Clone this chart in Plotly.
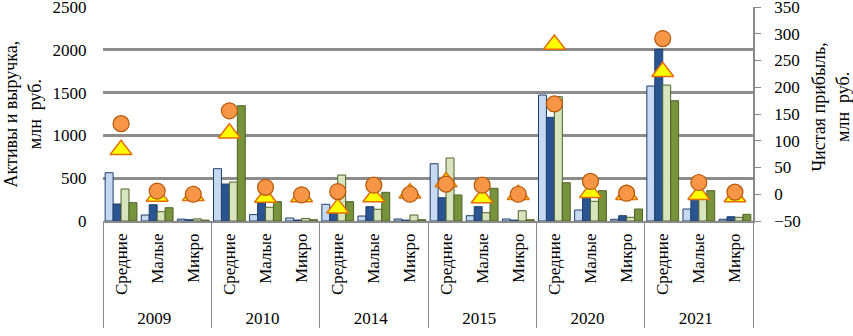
import plotly.graph_objects as go

years = ["2009", "2010", "2014", "2015", "2020", "2021"]
sizes = ["Средние", "Малые", "Микро"]

# Bars (left axis, млн руб.), order per year: Средние, Малые, Микро
light_blue = [564, 70, 22, 611, 75, 35, 195, 58, 23, 669, 62, 23, 1472, 128, 20, 1577, 140, 20]
dark_blue = [199, 190, 15, 432, 210, 12, 150, 167, 10, 272, 167, 10, 1211, 280, 62, 2005, 260, 50]
light_green = [374, 109, 25, 455, 160, 30, 537, 137, 70, 736, 97, 120, 1452, 230, 43, 1588, 280, 43]
olive = [214, 155, 10, 1347, 226, 15, 226, 335, 15, 304, 382, 15, 447, 354, 140, 1405, 354, 78]

# Net profit (right axis)
circles = [132, 6, 0, 156, 13, -1, 5, 17, 0, 19, 17, 0, 169, 24, 2, 291, 22, 4]
triangles = [83, -4, -3, 114, -6, -5, -26, -5, 2, 23, -7, -1, 280, 3, -1, 229, -1, -5]

left_ticks = [0, 500, 1000, 1500, 2000, 2500]

x = [[yr for yr in years for _ in sizes], [s for _ in years for s in sizes]]

FONT = "Times New Roman, Liberation Serif, DejaVu Serif, serif"
GRID = "#8a8a8a"
GRIDLINE = "#8c8c8c"

fig = go.Figure()
bar_specs = [
    (light_blue, "#C6D9F1", "#1F3F6B"),
    (dark_blue, "#2A5592", "#1F3F6B"),
    (light_green, "#D7E4BD", "#4F6228"),
    (olive, "#77933C", "#4F6228"),
]
for vals, fill, edge in bar_specs:
    fig.add_trace(go.Bar(x=x, y=vals, marker=dict(color=fill, line=dict(color=edge, width=1)),
                         showlegend=False))

fig.add_trace(go.Scatter(x=x, y=triangles, yaxis="y2", mode="markers", showlegend=False,
                         marker=dict(symbol="triangle-up", size=19, color="#FFFF00",
                                     line=dict(color="#E46C0A", width=1.5))))
fig.add_trace(go.Scatter(x=x, y=circles, yaxis="y2", mode="markers", showlegend=False,
                         marker=dict(symbol="circle", size=16, color="#F79646",
                                     line=dict(color="#B65708", width=1.2))))

fig.update_layout(
    width=853, height=336,
    margin=dict(l=103, r=100, t=7, b=115),
    paper_bgcolor="white", plot_bgcolor="rgba(0,0,0,0)",
    font=dict(family=FONT, size=17, color="black"),
    barmode="group", bargap=0.12, bargroupgap=0,
    xaxis=dict(type="multicategory", range=[-0.5, 17.5], showline=True, linecolor=GRID,
               linewidth=1.5, tickangle=-90, showdividers=True, dividercolor=GRID,
               dividerwidth=1, ticks="", ticklabelstandoff=4,
               tickfont=dict(family=FONT, size=17, color="black"),
               automargin=False, showgrid=False),
    yaxis=dict(range=[0, 2500], tickvals=left_ticks, showgrid=True, gridcolor=GRIDLINE,
               gridwidth=3, zeroline=False, showline=False, ticks="outside", ticklen=12,
               tickcolor="white", automargin=False, ticklabeloverflow="allow",
               tickfont=dict(family=FONT, size=17, color="black")),
    yaxis2=dict(range=[-50, 350], dtick=50, overlaying="y", side="right", showgrid=False,
                zeroline=False, showline=True, linecolor=GRID, linewidth=1.5, ticks="outside",
                ticklen=6, tickcolor=GRID, ticklabelstandoff=10, automargin=False,
                ticklabeloverflow="allow",
                tickfont=dict(family=FONT, size=17, color="black")),
    annotations=[
        dict(text="Активы и выручка,<br>млн  руб.", xref="paper", yref="paper",
             x=-0.124, y=0.5, textangle=-90, showarrow=False, xanchor="center", yanchor="middle",
             font=dict(family=FONT, size=18, color="black")),
        dict(text="Чистая прибыль,<br>млн  руб.", xref="paper", yref="paper",
             x=1.12, y=0.53, textangle=-90, showarrow=False, xanchor="center", yanchor="middle",
             font=dict(family=FONT, size=18, color="black")),
    ],
)

fig.write_html("out.html", config={"displayModeBar": False},
               post_script="document.body.style.margin='0px';document.body.style.padding='0px';")
